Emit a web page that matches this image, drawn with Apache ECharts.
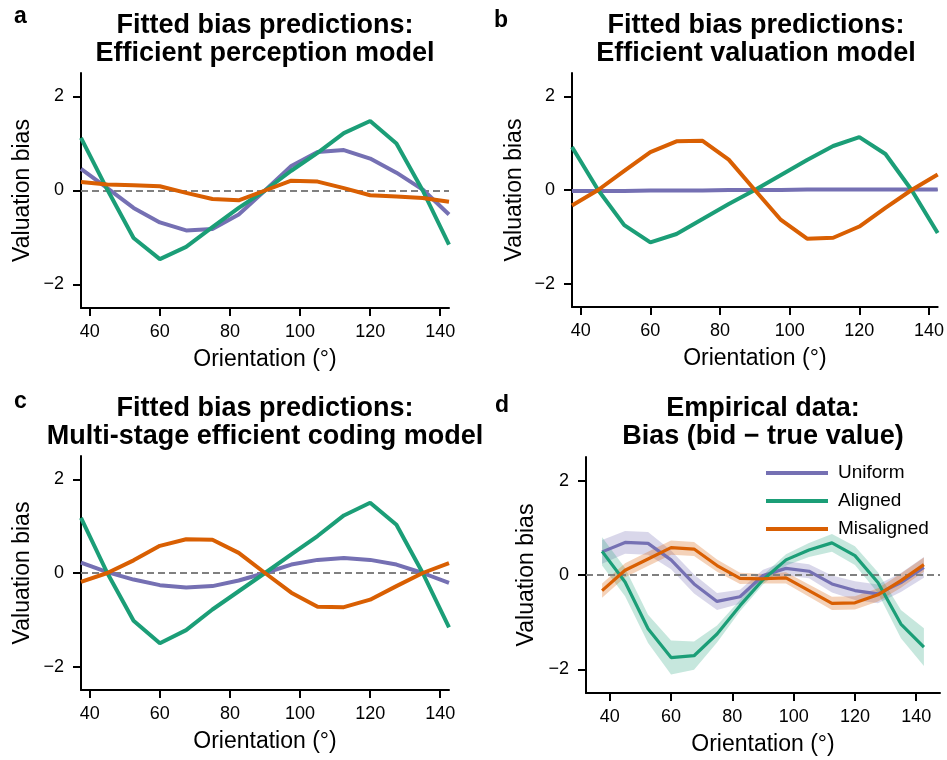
<!DOCTYPE html>
<html>
<head>
    <meta charset="utf-8"/>
    <title>bias predictions</title>
    <script src="https://cdn.jsdelivr.net/npm/echarts@6/dist/echarts.min.js"></script>
    <style>
        html, body { margin: 0; padding: 0; background: #fff; }
        #chart { width: 947px; height: 760px; }
    </style>
</head>
<body>
<div id="chart"></div>
<script type="text/javascript">
// orientation of each stimulus (deg)
var xs = [37.5, 45, 52.5, 60, 67.5, 75, 82.5, 90, 97.5, 105, 112.5, 120, 127.5, 135, 142.5];
var xTicks = [40, 60, 80, 100, 120, 140];
var yTicks = [-2, 0, 2];
var names = ['Uniform', 'Aligned', 'Misaligned'];
var colors = ['#7570b3', '#1b9e77', '#d95f02'];
var bandColors = ['rgba(117,112,179,0.28)', 'rgba(27,158,119,0.25)', 'rgba(217,95,2,0.28)'];

// a: efficient perception model
var aUniform = [0.46, 0.05, -0.37, -0.68, -0.85, -0.82, -0.51, 0, 0.52, 0.82, 0.86, 0.68, 0.38, 0.02, -0.51];
var aAligned = [1.12, 0.02, -1.01, -1.46, -1.2, -0.78, -0.37, 0, 0.42, 0.8, 1.22, 1.48, 1.0, 0, -1.15];
var aMisaligned = [0.18, 0.13, 0.11, 0.09, -0.05, -0.18, -0.21, 0, 0.21, 0.19, 0.05, -0.1, -0.13, -0.16, -0.24];

// b: efficient valuation model
var bUniform = [-0.02, -0.02, -0.02, -0.01, -0.01, -0.01, 0, 0, 0, 0.01, 0.01, 0.01, 0.01, 0.01, 0.01];
var bAligned = [0.92, 0, -0.75, -1.12, -0.94, -0.62, -0.3, 0, 0.32, 0.64, 0.94, 1.13, 0.77, 0, -0.92];
var bMisaligned = [-0.33, 0, 0.41, 0.81, 1.04, 1.05, 0.65, 0, -0.64, -1.04, -1.02, -0.78, -0.38, 0, 0.33];

// c: multi-stage model
var cUniform = [0.22, 0.02, -0.14, -0.26, -0.31, -0.28, -0.16, 0, 0.18, 0.28, 0.32, 0.28, 0.18, 0, -0.21];
var cAligned = [1.18, 0, -1.02, -1.5, -1.22, -0.78, -0.39, 0, 0.4, 0.79, 1.23, 1.5, 1.03, 0, -1.16];
var cMisaligned = [-0.19, 0, 0.27, 0.58, 0.72, 0.71, 0.43, 0, -0.42, -0.72, -0.73, -0.57, -0.28, 0, 0.21];

// d: empirical data, mean and half width of the shaded band
var dUniform = [0.49, 0.69, 0.67, 0.32, -0.19, -0.56, -0.46, -0.01, 0.14, 0.08, -0.19, -0.33, -0.4, -0.16, 0.16];
var dUniformErr = [0.25, 0.24, 0.24, 0.2, 0.2, 0.18, 0.15, 0.12, 0.15, 0.15, 0.18, 0.2, 0.2, 0.2, 0.22];
var dAligned = [0.5, -0.15, -1.14, -1.75, -1.71, -1.25, -0.65, -0.1, 0.32, 0.53, 0.68, 0.41, -0.16, -1.04, -1.53];
var dAlignedErr = [0.3, 0.3, 0.3, 0.36, 0.3, 0.18, 0.12, 0.1, 0.12, 0.15, 0.19, 0.2, 0.22, 0.3, 0.4];
var dMisaligned = [-0.33, 0.1, 0.34, 0.58, 0.55, 0.2, -0.07, -0.08, -0.06, -0.33, -0.6, -0.59, -0.42, -0.12, 0.22];
var dMisalignedErr = [0.15, 0.15, 0.15, 0.15, 0.15, 0.13, 0.12, 0.1, 0.12, 0.13, 0.14, 0.14, 0.14, 0.15, 0.15];

var FONT = "'Liberation Sans', Arial, sans-serif";

var panels = [
    {letter: 'a', title: 'Fitted bias predictions:\nEfficient perception model',
        grid: {left: 81, top: 73, width: 368, height: 235}, xr: [37.5, 142.5], lw: 4,
        lines: [aUniform, aAligned, aMisaligned]},
    {letter: 'b', title: 'Fitted bias predictions:\nEfficient valuation model',
        grid: {left: 572, top: 73, width: 368, height: 234}, xr: [37.5, 142.5], lw: 4,
        lines: [bUniform, bAligned, bMisaligned]},
    {letter: 'c', title: 'Fitted bias predictions:\nMulti-stage efficient coding model',
        grid: {left: 81, top: 456, width: 368, height: 234}, xr: [37.5, 142.5], lw: 4,
        lines: [cUniform, cAligned, cMisaligned]},
    {letter: 'd', title: 'Empirical data:\nBias (bid \u2212 true value)',
        grid: {left: 586, top: 457, width: 354, height: 236}, xr: [32.25, 147.75], lw: 3.2,
        lines: [dUniform, dAligned, dMisaligned], errs: [dUniformErr, dAlignedErr, dMisalignedErr]}
];
var letterPos = [[14, 17], [494, 21], [14, 402], [495, 406]];
var yNameGap = [47, 46, 47, 48];

function pairs(vals) {
    return xs.map(function (x, i) { return [x, vals[i]]; });
}

// polygon between mean - err and mean + err, through the axis scales
function bandRenderer(vals, err, color) {
    return function (params, api) {
        if (params.dataIndex !== 0) return null;
        var upper = xs.map(function (x, i) { return api.coord([x, vals[i] + err[i]]); });
        var lower = xs.map(function (x, i) { return api.coord([x, vals[i] - err[i]]); }).reverse();
        return {
            type: 'polygon',
            shape: {points: upper.concat(lower)},
            style: {fill: color},
            clipPath: {type: 'rect', shape: {
                x: params.coordSys.x, y: params.coordSys.y,
                width: params.coordSys.width, height: params.coordSys.height
            }}
        };
    };
}

var grids = [], xAxes = [], yAxes = [], series = [], titles = [], graphics = [];

panels.forEach(function (p, k) {
    grids.push(p.grid);
    titles.push({
        text: p.title, left: p.grid.left + p.grid.width / 2, top: k < 2 ? 12 : 395,
        textAlign: 'center', padding: 0,
        textStyle: {fontFamily: FONT, fontWeight: 'bold', fontSize: 27, lineHeight: 28, color: '#000'}
    });
    graphics.push({
        type: 'text', x: letterPos[k][0], y: letterPos[k][1],
        style: {text: p.letter, font: 'bold 23px ' + FONT, fill: '#000', verticalAlign: 'middle'}
    });
    xAxes.push({
        type: 'value', gridIndex: k, min: p.xr[0], max: p.xr[1],
        name: 'Orientation (\u00b0)', nameLocation: 'middle', nameGap: 40,
        nameTextStyle: {fontFamily: FONT, fontSize: 23, color: '#000'},
        axisLine: {onZero: false, lineStyle: {color: '#000', width: 2}},
        axisTick: {customValues: xTicks, length: 8, lineStyle: {color: '#000', width: 2}},
        axisLabel: {customValues: xTicks, margin: 15, fontFamily: FONT, fontSize: 18, color: '#000'},
        splitLine: {show: false}
    });
    yAxes.push({
        type: 'value', gridIndex: k, min: -2.5, max: 2.5,
        name: 'Valuation bias', nameLocation: 'middle', nameGap: yNameGap[k],
        nameTextStyle: {fontFamily: FONT, fontSize: 23, color: '#000'},
        axisLine: {onZero: false, lineStyle: {color: '#000', width: 2}},
        axisTick: {customValues: yTicks, length: 8, lineStyle: {color: '#000', width: 2}},
        axisLabel: {
            customValues: yTicks, margin: 17, fontFamily: FONT, fontSize: 18, color: '#000',
            formatter: function (v) { return v < 0 ? '\u2212' + Math.abs(v) : String(v); }
        },
        splitLine: {show: false}
    });

    // shaded error bands (panel d only)
    if (p.errs) {
        p.lines.forEach(function (vals, j) {
            series.push({
                type: 'custom', name: 'band' + j, xAxisIndex: k, yAxisIndex: k,
                data: pairs(vals), renderItem: bandRenderer(vals, p.errs[j], bandColors[j]),
                silent: true, z: 1
            });
        });
    }

    p.lines.forEach(function (vals, j) {
        var s = {
            type: 'line', name: names[j], xAxisIndex: k, yAxisIndex: k,
            data: pairs(vals), symbol: 'none', color: colors[j],
            lineStyle: {color: colors[j], width: p.lw}, z: 3
        };
        if (j === 0) {
            s.markLine = {
                silent: true, symbol: 'none', z: 2, label: {show: false},
                lineStyle: {type: [7, 4], color: '#808080', width: 2},
                data: [{yAxis: 0}]
            };
        }
        series.push(s);
    });
});

var chart = echarts.init(document.getElementById('chart'));
chart.setOption({
    animation: false,
    backgroundColor: '#fff',
    title: titles,
    graphic: graphics,
    grid: grids,
    xAxis: xAxes,
    yAxis: yAxes,
    legend: {
        data: names, orient: 'vertical', left: 761, top: 458,
        icon: 'rect', itemWidth: 62, itemHeight: 4, itemGap: 8,
        textStyle: {fontFamily: FONT, fontSize: 19, lineHeight: 20, color: '#000', padding: [0, 0, 0, 5]}
    },
    series: series
});
</script>
</body>
</html>
